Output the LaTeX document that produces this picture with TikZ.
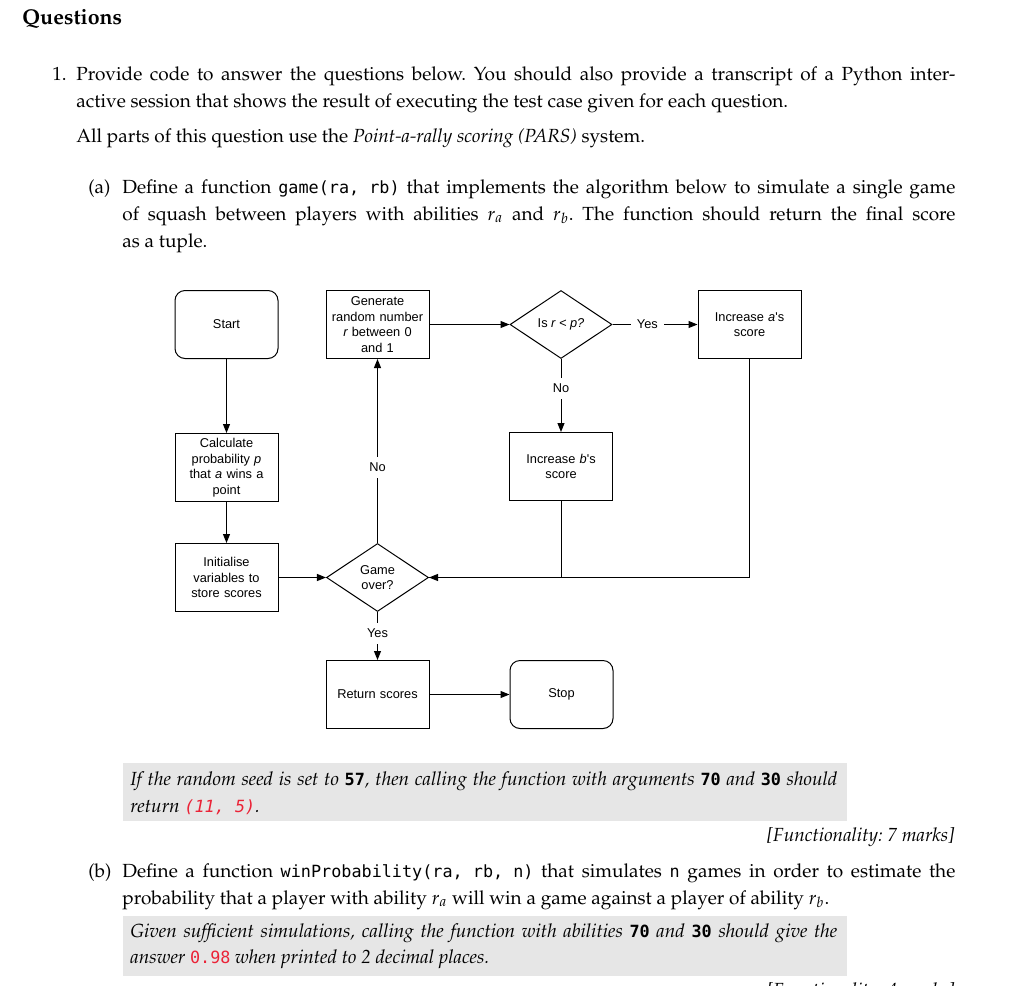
\documentclass[tikz,border=0pt]{standalone}
\usepackage{fontspec}
\newfontfamily\chartfamily{Liberation Sans}
\newfontfamily\codefamily{DejaVu Sans Mono}
\usepackage[T1]{fontenc}
\usepackage{mathpazo}
\usepackage{xcolor}
\usetikzlibrary{shapes.geometric, arrows.meta, positioning}

\definecolor{boxgray}{RGB}{230,230,230}
\definecolor{codered}{RGB}{235,35,55}
\newcommand{\txtfont}{\fontsize{9.5}{13.5}\selectfont\frenchspacing}
\newcommand{\chartfont}{\chartfamily\fontsize{6.4}{7.75}\selectfont}
\newcommand{\code}[1]{\mbox{\codefamily\upshape\fontsize{8.4}{13.5}\selectfont #1}}
\newcommand{\codeb}[1]{\mbox{\codefamily\bfseries\upshape\fontsize{8.4}{13.5}\selectfont #1}}
\newcommand{\coderes}[1]{\mbox{\color{codered}\codefamily\fontsize{8.4}{13.5}\selectfont #1}}

\tikzset{
  txt/.style={inner sep=0pt, font=\txtfont, anchor=base west},
  proc/.style={rectangle, draw, line width=0.5pt, minimum width=51.5pt, minimum height=34pt,
    text width=48pt, align=center, font=\chartfont, inner sep=0pt},
  term/.style={proc, rounded corners=5pt},
  dec/.style={diamond, draw, line width=0.5pt, minimum width=51pt, minimum height=34pt,
    inner sep=0pt, align=center, font=\chartfont},
  line/.style={line width=0.5pt},
  arrow/.style={-{Triangle[length=4.5pt,width=3.5pt]}, line width=0.5pt},
  lbl/.style={fill=white, font=\chartfont, inner sep=3pt},
  shade/.style={fill=boxgray}
}

\begin{document}
\begin{tikzpicture}[x=0.5pt, y=-0.5pt]
  \useasboundingbox (0,0) rectangle (1024,986);
  \fill[white] (0,0) rectangle (1024,986);
  \clip (0,0) rectangle (1024,986);

  % heading and question text
  \node[txt, font=\fontsize{10.7}{13}\selectfont\bfseries] (title) at (22,24) {Questions};
  \node[txt] (num) at (52,80) {1.};
  \node[txt] (q1a) at (76,80) {\makebox[439.5pt][s]{Provide code to answer the questions below. You should also provide a transcript of a Python inter-}};
  \node[txt] (q1b) at (76,107) {active session that shows the result of executing the test case given for each question.};
  \node[txt] (q1c) at (76,142) {All parts of this question use the \textit{Point-a-rally scoring (PARS)} system.};

  \node[txt] (pa) at (88,193) {(a)};
  \node[txt] (pa1) at (122,193) {\makebox[416.5pt][s]{Define a function \code{game(ra, rb)} that implements the algorithm below to simulate a single game}};
  \node[txt] (pa2) at (122,220) {\makebox[416.5pt][s]{of squash between players with abilities $r_a$ and $r_b$. The function should return the final score}};
  \node[txt] (pa3) at (122,247) {as a tuple.};

  % flowchart
  \node[term] (start) at (226.5,324.5) {Start};
  \node[proc, right=23.5pt of start] (gen) {Generate\\random number\\{\itshape r} between 0\\and 1};
  \node[dec, right=40pt of gen] (isr) {Is {\itshape r} {\itshape <} {\itshape p?}};
  \node[proc, right=42.5pt of isr] (inca) {Increase {\itshape a}'s\\score};
  \node[proc, below=36.5pt of isr] (incb) {Increase {\itshape b}'s\\score};
  \node[proc, below=37pt of start] (calc) {Calculate\\probability {\itshape p}\\that {\itshape a} wins a\\point};
  \node[proc, below=20.5pt of calc] (init) {Initialise\\variables to\\store scores};
  \node[dec, right=23.75pt of init] (over) {Game\\over?};
  \node[proc, below=24pt of over] (ret) {Return scores};
  \node[term, right=40pt of ret] (stop) {Stop};

  \draw[arrow] (start) -- (calc);
  \draw[arrow] (calc) -- (init);
  \draw[arrow] (init) -- (over);
  \draw[arrow] (over) -- node[lbl, pos=0.41] {No} (gen);
  \draw[arrow] (gen) -- (isr);
  \draw[arrow] (isr) -- node[lbl, pos=0.41] {Yes} (inca);
  \draw[arrow] (isr) -- node[lbl, pos=0.4] {No} (incb);
  \draw[line] (incb.south) |- (over.east);
  \draw[arrow] (inca.south) |- (over.east);
  \draw[arrow] (over) -- node[lbl, pos=0.44] {Yes} (ret);
  \draw[arrow] (ret) -- (stop);

  % test case boxes
  \fill[shade] (123,763) rectangle (847,821);
  \node[txt] (ta1) at (130,785) {\makebox[353.5pt][s]{\textit{If the random seed is set to \codeb{57}, then calling the function with arguments \codeb{70} and \codeb{30} should}}};
  \node[txt] (ta2) at (130,812) {\textit{return \coderes{\itshape(11, 5)}.}};
  \node[txt, anchor=base east] (fa) at (955,841) {\textit{[Functionality: 7 marks]}};

  \node[txt] (pb) at (88,877) {(b)};
  \node[txt] (pb1) at (122,877) {\makebox[416.5pt][s]{Define a function \code{winProbability(ra, rb, n)} that simulates \code{n} games in order to estimate the}};
  \node[txt] (pb2) at (122,904) {probability that a player with ability $r_a$ will win a game against a player of ability $r_b$.};

  \fill[shade] (123,916) rectangle (847,976);
  \node[txt] (tb1) at (130,937) {\makebox[353.5pt][s]{\textit{Given sufficient simulations, calling the function with abilities \codeb{70} and \codeb{30} should give the}}};
  \node[txt] (tb2) at (130,963) {\textit{answer \coderes{\upshape 0.98} when printed to 2 decimal places.}};
  \node[txt, anchor=base east] (fb) at (955,996) {\textit{[Functionality: 4 marks]}};
\end{tikzpicture}
\end{document}
